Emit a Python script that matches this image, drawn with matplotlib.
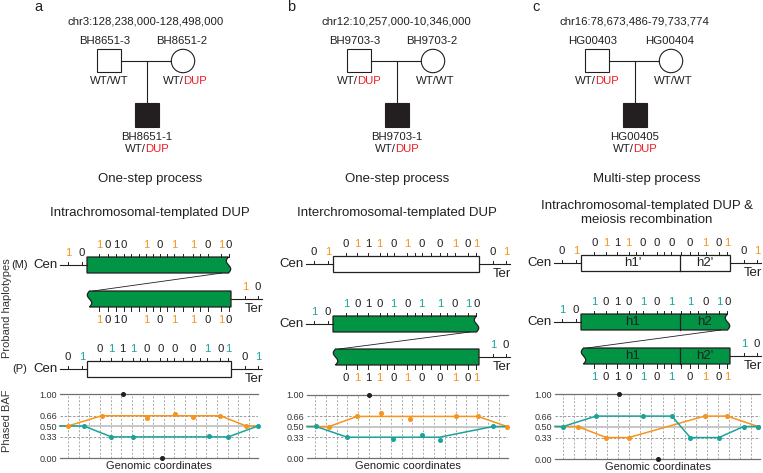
import numpy as np
import matplotlib.pyplot as plt
from matplotlib.patches import Rectangle, Circle, Polygon

plt.rcParams['font.family'] = ['Liberation Sans', 'DejaVu Sans']

ORANGE = '#F7941D'
TEAL = '#1AA39B'
RED = '#ED1C24'
GREEN = '#009444'
INK = '#231F20'
CMAP = {'o': ORANGE, 't': TEAL, 'k': INK}

# ---- pedigree text
letters = ['a', 'b', 'c']
regions = ['chr3:128,238,000-128,498,000', 'chr12:10,257,000-10,346,000',
           'chr16:78,673,486-79,733,774']
fathers = ['BH8651-3', 'BH9703-3', 'HG00403']
mothers = ['BH8651-2', 'BH9703-2', 'HG00404']
probands = ['BH8651-1', 'BH9703-1', 'HG00405']
father_dup = [False, True, True]
mother_dup = [True, False, False]
processes = ['One-step process', 'One-step process', 'Multi-step process']
mechanisms = ['Intrachromosomal-templated DUP', 'Interchromosomal-templated DUP',
              'Intrachromosomal-templated DUP &\nmeiosis recombination']

# ---- haplotype alleles (digits + colour code), rows top to bottom
hap_digits = [['10101011010', '10101011010', '01110000101'],
              ['01110100101', '10101011010', '01110100101'],
              ['01110000101', '10101011010', '10101010101']]
hap_colors = [['okkkokookok', 'okkkokookok', 'ktktkkkktkt'],
              ['kokokokkoko', 'tkkktkttktk', 'kokokokkoko'],
              ['kokokkkkoko', 'tkkktkttktk', 'tkkktktkoko']]
cen_digits = [['10', None, '01'], ['01', '10', None], ['01', '10', None]]
cen_colors = [['ok', None, 'kt'], ['ko', 'tk', None], ['ko', 'tk', None]]
ter_digits = [[None, '10', '01'], ['01', None, '10'], ['01', None, '10']]
ter_colors = [[None, 'ok', 'kt'], ['ko', None, 'tk'], ['ko', None, 'tk']]
segments = [None, None, [["h1'", "h2'"], ['h1', 'h2'], ['h1', "h2'"]]]

# ---- phased BAF (x = genomic position 0-100)
orange_line_x = [[0, 4, 21, 81, 94, 100], [0, 11, 25, 85, 99.5, 100],
                 [0, 11, 25, 36, 73, 84, 99, 100]]
orange_line_y = [[0.5, 0.5, 0.66, 0.66, 0.5, 0.5], [0.5, 0.5, 0.66, 0.66, 0.5, 0.5],
                 [0.5, 0.5, 0.33, 0.33, 0.66, 0.66, 0.5, 0.5]]
orange_pts_x = [[4, 21, 44, 58, 67, 81, 94], [11, 25, 37, 51, 74, 85, 99.5],
                [11, 25, 36, 73, 84, 99]]
orange_pts_y = [[0.5, 0.66, 0.62, 0.68, 0.64, 0.66, 0.5],
                [0.5, 0.66, 0.71, 0.62, 0.67, 0.66, 0.5],
                [0.5, 0.33, 0.33, 0.66, 0.66, 0.5]]
teal_line_x = [[0, 12, 26, 85, 100], [0, 4.5, 20, 66, 92.5, 100],
               [0, 4, 20, 57, 66, 80, 92, 100]]
teal_line_y = [[0.5, 0.5, 0.33, 0.33, 0.5], [0.5, 0.5, 0.33, 0.33, 0.5, 0.5],
               [0.5, 0.5, 0.66, 0.66, 0.33, 0.33, 0.5, 0.5]]
teal_pts_x = [[12, 26, 37, 75, 85, 100], [4.5, 20, 43, 57, 66, 92.5],
              [4, 20, 43, 57, 66, 80, 92, 99]]
teal_pts_y = [[0.5, 0.33, 0.33, 0.34, 0.33, 0.5], [0.51, 0.33, 0.30, 0.37, 0.28, 0.51],
              [0.5, 0.66, 0.66, 0.66, 0.33, 0.33, 0.5, 0.5]]
black_x = [[32, 51.5], [31], [31, 50]]
black_y = [[1.0, 0.0], [1.0], [1.0, 0.0]]
baf_ticks = [0, 0.33, 0.5, 0.66, 1.0]
baf_ticklabels = ['0.00', '0.33', '0.50', '0.66', '1.00']

# ---- layout (pixels)
W, H = 763, 473
ped_cx = [147, 397, 635]
title_cx = [150, 397, 647]
bar_x0 = [87, 333, 581]
bar_x1 = [231, 479, 730]
row_y = [[257, 291, 361], [256, 316, 349], [255, 314, 348]]
row_fill = [[GREEN, GREEN, 'white'], ['white', GREEN, GREEN], ['white', GREEN, GREEN]]
row_wave = [['right', 'left', None], [None, 'right', 'left'], [None, 'right', 'left']]
label_frac = [0.09, 0.167, 0.243, 0.319, 0.416, 0.51, 0.607, 0.732, 0.836, 0.925, 0.982]
label_frac_tight = [0.083, 0.143, 0.2, 0.257, 0.41, 0.507, 0.604, 0.736, 0.84, 0.93, 0.986]
baf_boxes = [(60, 258, 394, 458), (307, 508, 395, 458), (555, 760, 394, 459)]
BH = 16

fig = plt.figure(figsize=(W / 100, H / 100), dpi=100)
ax = fig.add_axes([0, 0, 1, 1])
ax.set_xlim(0, W)
ax.set_ylim(H, 0)
ax.axis('off')


def genotype(x, y, dup):
    if dup:
        ax.text(x - 1.5, y, 'WT/', ha='right', va='center', fontsize=8.2, color=INK)
        ax.text(x - 1.5, y, 'DUP', ha='left', va='center', fontsize=8.2, color=RED)
    else:
        ax.text(x, y, 'WT/WT', ha='center', va='center', fontsize=8.2, color=INK)


def digits(xs, y, s, cols):
    for xx, d, c in zip(xs, s, cols):
        ax.text(xx, y, d, ha='center', va='center', fontsize=8.2, color=CMAP[c])


def tick_positions(fr):
    out = list(fr)
    for a, b in zip(fr[:-1], fr[1:]):
        n = int((b - a) / 0.048)
        for k in range(1, n):
            out.append(a + (b - a) * k / n)
    return out


def draw_bar(x0, x1, y, fill, wave):
    t = np.linspace(0, 1, 40)
    wv = 2.2 * np.sin(2 * np.pi * t)
    if wave == 'right':
        right = list(zip(x1 - 2.5 - wv, y + BH * t))
        pts = [(x0, y)] + right + [(x0, y + BH)]
    elif wave == 'left':
        left = list(zip(x0 + 2.5 + wv, y + BH * (1 - t)))
        pts = [(x1, y), (x1, y + BH)] + left
    else:
        pts = [(x0, y), (x1, y), (x1, y + BH), (x0, y + BH)]
    ax.add_patch(Polygon(pts, closed=True, fc=fill, ec=INK, lw=0.9))


for i in range(3):
    cx = ped_cx[i]
    ax.text([38, 291, 536][i], 7, letters[i], ha='center', va='center', fontsize=10.5, color=INK)
    ax.text(cx - 1, 21, regions[i], ha='center', va='center', fontsize=8.2, color=INK)
    ax.text(cx - 42, 41, fathers[i], ha='center', va='center', fontsize=8.2, color=INK)
    ax.text(cx + 35, 41, mothers[i], ha='center', va='center', fontsize=8.2, color=INK)
    ax.add_patch(Rectangle((cx - 50, 49), 24, 23, fc='white', ec=INK, lw=0.8))
    ax.add_patch(Circle((cx + 36, 61), 11.7, fc='white', ec=INK, lw=0.8))
    ax.plot([cx - 26, cx + 24.3], [61, 61], color=INK, lw=0.8)
    ax.plot([cx, cx], [61, 103], color=INK, lw=0.8)
    ax.add_patch(Rectangle((cx - 12, 103), 24, 24, fc=INK, ec=INK, lw=0.8))
    genotype(cx - 38, 81, father_dup[i])
    genotype(cx + 38, 81, mother_dup[i])
    ax.text(cx, 137, probands[i], ha='center', va='center', fontsize=8.2, color=INK)
    genotype(cx, 149, True)

    tc = title_cx[i]
    ax.text(tc, 179, processes[i], ha='center', va='center', fontsize=9.5, color=INK)
    ax.text(tc, 213, mechanisms[i], ha='center', va='center', fontsize=9.5,
            color=INK, linespacing=1.15)

    x0, x1 = bar_x0[i], bar_x1[i]
    for r in range(3):
        fr = label_frac_tight if (i == 0 and r < 2) else label_frac
        lab_x = [x0 + f * (x1 - x0) for f in fr]
        tk_x = [x0 + f * (x1 - x0) for f in tick_positions(fr)]
        y = row_y[i][r]
        wave = row_wave[i][r]
        draw_bar(x0, x1, y, row_fill[i][r], wave)
        if segments[i] is not None:
            xd = x0 + 0.664 * (x1 - x0)
            ax.plot([xd, xd], [y, y + BH], color=INK, lw=0.9)
            ax.text((x0 + xd) / 2 + 2, y + BH / 2, segments[i][r][0], ha='center', va='center',
                    fontsize=9.5, color=INK)
            ax.text((xd + x1) / 2, y + BH / 2, segments[i][r][1], ha='center', va='center',
                    fontsize=9.5, color=INK)
        if wave == 'left':
            for xx in tk_x:
                ax.plot([xx, xx], [y + BH, y + BH + 3.5], color=INK, lw=0.7)
            digits(lab_x, y + BH + 13, hap_digits[i][r], hap_colors[i][r])
        else:
            for xx in tk_x:
                ax.plot([xx, xx], [y, y - 3.5], color=INK, lw=0.7)
            digits(lab_x, y - 12, hap_digits[i][r], hap_colors[i][r])
        ym = y + BH / 2
        if cen_digits[i][r] is not None:
            ax.plot([x0 - 27, x0], [ym, ym], color=INK, lw=0.8)
            cx_t = [x0 - 19, x0 - 5]
            for xx in cx_t:
                ax.plot([xx, xx], [ym, ym - 3.5], color=INK, lw=0.7)
            digits(cx_t, ym - 12, cen_digits[i][r], cen_colors[i][r])
            ax.text(x0 - 29, ym, 'Cen', ha='right', va='center', fontsize=9.5, color=INK)
        if ter_digits[i][r] is not None:
            ax.plot([x1, x1 + 31], [ym, ym], color=INK, lw=0.8)
            tx_t = [x1 + 14, x1 + 27]
            for xx in tx_t:
                ax.plot([xx, xx], [ym, ym - 3.5], color=INK, lw=0.7)
            digits(tx_t, ym - 12, ter_digits[i][r], ter_colors[i][r])
            ax.text(x1 + 23, ym + 10, 'Ter', ha='center', va='center', fontsize=9.5, color=INK)
        if wave == 'right':
            yn = row_y[i][r + 1]
            ax.plot([x1 - 9, x0 + 6], [y + BH, yn], color=INK, lw=0.6)

# side labels for panel a
ax.text(20, row_y[0][0] + BH / 2, '(M)', ha='center', va='center', fontsize=8, color=INK)
ax.text(20, row_y[0][2] + BH / 2, '(P)', ha='center', va='center', fontsize=8, color=INK)
ax.text(7, 308, 'Proband haplotypes', rotation=90, ha='center', va='center', fontsize=8, color='#333333')
ax.text(7, 421, 'Phased BAF', rotation=90, ha='center', va='center', fontsize=8, color='#333333')

for i in range(3):
    l, r, t, b = baf_boxes[i]
    bax = fig.add_axes([l / W, 1 - b / H, (r - l) / W, (b - t) / H])
    bax.set_xlim(0, 100)
    bax.set_ylim(0, 1)
    bax.patch.set_alpha(0)
    for v in np.linspace(4, 95.5, 18):
        bax.axvline(v, color='#a0a0a0', lw=0.6, ls=(0, (2.5, 2)), zorder=1)
    bax.axhline(0.66, color='#8c8c8c', lw=0.6, ls=(0, (3, 2)), zorder=1)
    bax.axhline(0.33, color='#8c8c8c', lw=0.6, ls=(0, (3, 2)), zorder=1)
    bax.axhline(0.5, color='#c6c6c6', lw=1.4, zorder=1)
    for s in ['left', 'right']:
        bax.spines[s].set_visible(False)
    for s in ['top', 'bottom']:
        bax.spines[s].set_color('#707070')
        bax.spines[s].set_linewidth(0.9)
    bax.plot(orange_line_x[i], orange_line_y[i], color=ORANGE, lw=1.1, zorder=3, clip_on=False)
    bax.plot(teal_line_x[i], teal_line_y[i], color=TEAL, lw=1.1, zorder=3, clip_on=False)
    bax.plot(orange_pts_x[i], orange_pts_y[i], 'o', ms=2.6, color=ORANGE, zorder=4, clip_on=False)
    bax.plot(teal_pts_x[i], teal_pts_y[i], 'o', ms=2.6, color=TEAL, zorder=4, clip_on=False)
    bax.plot(black_x[i], black_y[i], 'o', ms=2.6, color=INK, zorder=4, clip_on=False)
    bax.set_xticks([])
    bax.set_yticks(baf_ticks)
    bax.set_yticklabels(baf_ticklabels)
    bax.tick_params(axis='y', length=0, pad=2, labelsize=6.5, labelcolor='#333333')
    bax.set_xlabel('Genomic coordinates', fontsize=8, labelpad=2, color=INK)

fig.savefig('out.png', dpi=100)
